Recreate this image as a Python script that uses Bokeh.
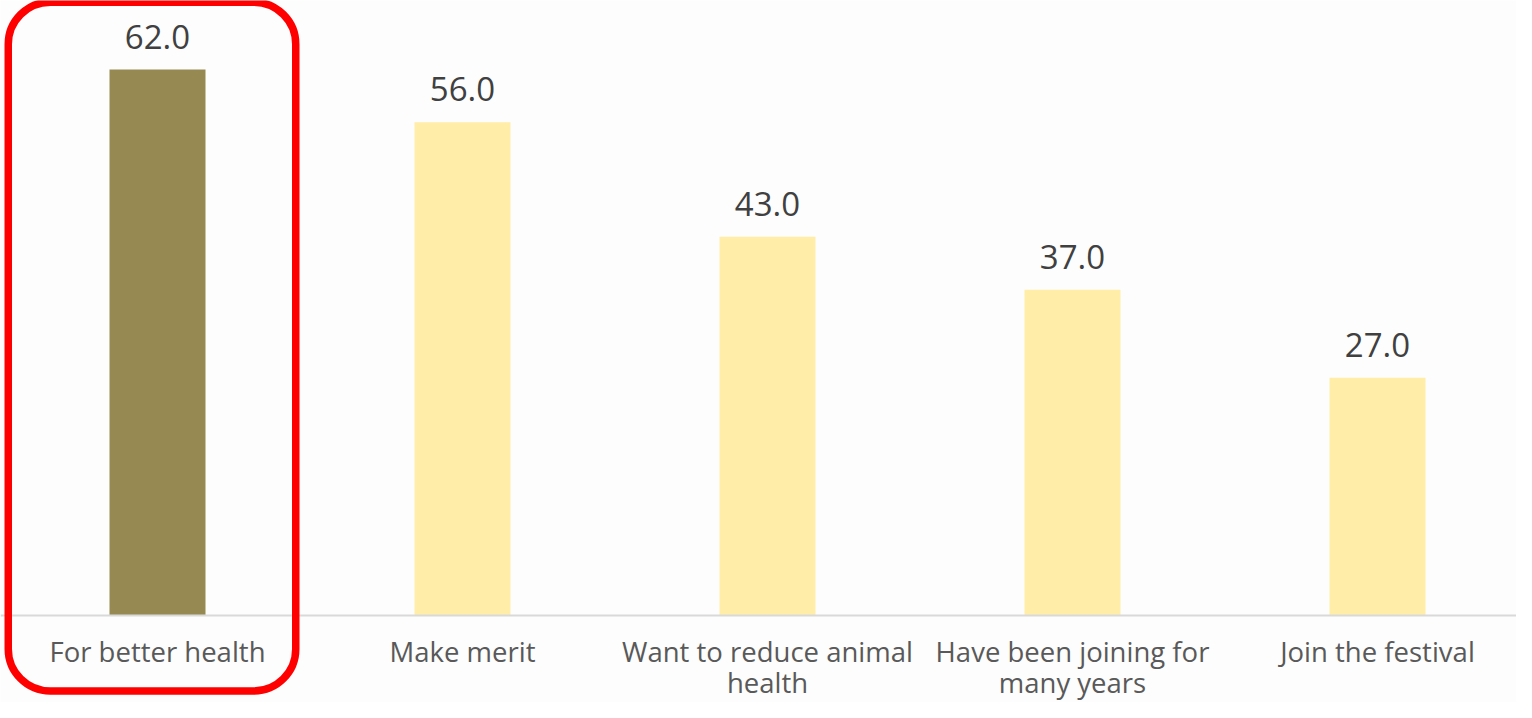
from bokeh.plotting import figure
from bokeh.models import Range1d, ColumnDataSource, Span, BoxAnnotation
from bokeh.core.properties import value
from bokeh.embed import file_html
from bokeh.resources import INLINE

# ---- data ----
categories = ["For better health", "Make merit", "Want to reduce animal\nhealth",
              "Have been joining for\nmany years", "Join the festival"]
values = [62.0, 56.0, 43.0, 37.0, 27.0]
highlight_index = 0
value_labels = [f"{v:.1f}" for v in values]

# ---- styles ----
HIGHLIGHT = "#968A52"
NORMAL = "#FFEDA8"
FONT = "Open Sans"

W, H = 1516, 702
px_per_cat = 305.0
first_center = 157.0          # canvas px of first category centre
baseline_px = 615.0           # canvas px of y = 0
px_per_unit = 546.0 / 62.0

x0 = -first_center / px_per_cat
x1 = (W - first_center) / px_per_cat
y1 = baseline_px / px_per_unit
y0 = -(H - baseline_px) / px_per_unit

xs = list(range(len(categories)))
line1 = [c.split("\n")[0] for c in categories]
line2 = [c.split("\n")[1] if "\n" in c else "" for c in categories]
colors = [HIGHLIGHT if i == highlight_index else NORMAL for i in xs]

src = ColumnDataSource(dict(x=xs, top=values, color=colors, lab=value_labels,
                            l1=line1, l2=line2))

p = figure(width=W, height=H, x_range=Range1d(x0, x1), y_range=Range1d(y0, y1),
           output_backend="svg", toolbar_location=None, min_border=0)
p.axis.visible = False
p.grid.visible = False
p.outline_line_color = None
p.background_fill_color = "#FDFDFD"
p.border_fill_color = "#FDFDFD"

p.vbar(x="x", top="top", width=96.0 / px_per_cat, bottom=0, color="color",
       line_color=None, source=src)

p.add_layout(Span(location=0, dimension="width", line_color="#D9D9D9", line_width=2))

p.text(x="x", y="top", text="lab", source=src, y_offset=-33,
       text_align="center", text_baseline="alphabetic",
       text_font=value(FONT), text_font_size="33px", text_color="#404040")

lab_y1 = -36.0 / px_per_unit
lab_y2 = -67.0 / px_per_unit
p.text(x="x", y=lab_y1, text="l1", source=src, text_align="center",
       text_baseline="alphabetic", text_font=value(FONT), text_font_size="27.5px",
       text_color="#595959")
p.text(x="x", y=lab_y2, text="l2", source=src, text_align="center",
       text_baseline="alphabetic", text_font=value(FONT), text_font_size="27.5px",
       text_color="#595959")

# rounded red highlight box around the highlighted category
hl = highlight_index
box = BoxAnnotation(left=hl - 0.4893, right=hl + 0.4533, top=69.64, bottom=-8.57,
                    fill_color=None, fill_alpha=0, line_color="#FF0000",
                    line_alpha=1.0, line_width=7.5, border_radius=42)
p.add_layout(box)

open("out.html", "w").write(file_html(p, INLINE))
